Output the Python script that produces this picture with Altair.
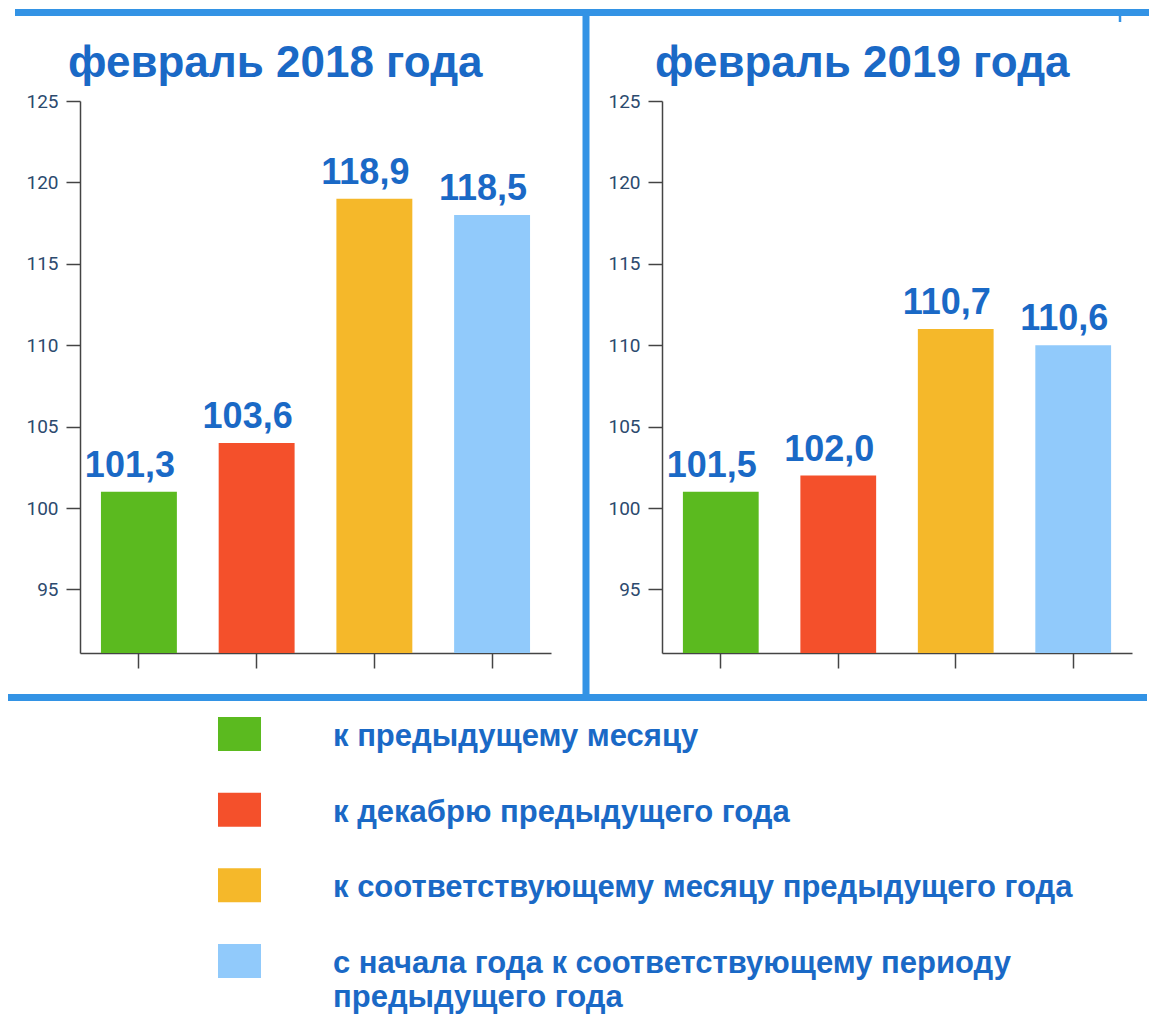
import altair as alt
import pandas as pd

# ---- data ----
categories = [
    "к предыдущему месяцу",
    "к декабрю предыдущего года",
    "к соответствующему месяцу предыдущего года",
    "с начала года к соответствующему периоду\nпредыдущего года",
]
colors = ["#5bba1f", "#f4502b", "#f5b82a", "#91cafb"]
panel_titles = ["февраль 2018 года", "февраль 2019 года"]
bars_2018 = [101, 104, 119, 118]          # drawn bar heights
bars_2019 = [101, 102, 111, 110]
labels_2018 = [101.3, 103.6, 118.9, 118.5]  # printed values
labels_2019 = [101.5, 102.0, 110.7, 110.6]
y_ticks = [95, 100, 105, 110, 115, 120, 125]
y_min, y_max = 91.1, 125

BLUE_TXT = "#1a69c6"
BLUE_LINE = "#3393e5"
AXIS_COL = "#444444"
TICK_LBL = "#2c4a6e"
FONT = "Liberation Sans"

W, H = 1141, 1009


def panel(values, labels, x_range):
    df = pd.DataFrame({"cat": categories, "value": values, "label": labels})
    x = alt.X(
        "cat:N",
        sort=categories,
        scale=alt.Scale(domain=categories, range=x_range,
                        paddingInner=0.355, paddingOuter=0.178),
        axis=alt.Axis(orient="bottom", offset=-(H - 645), labels=False, title=None,
                      tickSize=15, tickWidth=1.5, tickColor=AXIS_COL,
                      domainColor=AXIS_COL, domainWidth=1.5, grid=False),
    )
    y = alt.Y(
        "value:Q",
        scale=alt.Scale(domain=[y_min, y_max], range=[645, 93], nice=False, zero=False),
        axis=alt.Axis(orient="left", offset=-x_range[0], values=y_ticks, title=None,
                      tickSize=14, tickWidth=1.5, tickColor=AXIS_COL,
                      domainColor=AXIS_COL, domainWidth=1.5, grid=False,
                      labelFont="Roboto", labelFontSize=19, labelColor=TICK_LBL,
                      labelPadding=8),
    )
    base = alt.Chart(df).encode(x=x)
    bars = base.mark_bar().encode(
        y=y,
        y2=alt.datum(y_min),
        color=alt.Color("cat:N", scale=alt.Scale(domain=categories, range=colors), legend=None),
    )
    txt = base.transform_calculate(
        txt="replace(format(datum.label, '.1f'), '.', ',')"
    ).mark_text(
        font=FONT, fontSize=36, fontWeight="bold", color=BLUE_TXT,
        baseline="alphabetic", align="center", dx=-9, dy=-15,
    ).encode(y=alt.Y("value:Q"), text="txt:N")
    return alt.layer(bars, txt)


def title(text, x):
    return alt.Chart(pd.DataFrame({"t": [text]})).mark_text(
        font=FONT, fontSize=44, fontWeight="bold", color=BLUE_TXT,
        align="left", baseline="alphabetic",
    ).encode(x=alt.value(x), y=alt.value(69), text="t:N")


one = pd.DataFrame({"a": [0]})


def hline(x1, x2, y, w=7):
    return alt.Chart(one).mark_rule(color=BLUE_LINE, strokeWidth=w).encode(
        x=alt.value(x1), x2=alt.value(x2), y=alt.value(y))


def vline(x, y1, y2, w=7):
    return alt.Chart(one).mark_rule(color=BLUE_LINE, strokeWidth=w).encode(
        x=alt.value(x), y=alt.value(y1), y2=alt.value(y2))


p1 = panel(bars_2018, labels_2018, [72, 543])
p2 = panel(bars_2019, labels_2019, [654, 1124])

leg_df = pd.DataFrame({"cat": categories})
leg_y = alt.Y("cat:N", sort=categories,
              scale=alt.Scale(type="point", domain=categories, range=[726, 953], padding=0),
              axis=None)
leg_sym = alt.Chart(leg_df).mark_point(
    shape="M-1.265,-1L1.265,-1L1.265,1L-1.265,1Z", filled=True, opacity=1,
    size=1156, strokeWidth=0,
).encode(
    x=alt.value(231.5), y=leg_y,
    color=alt.Color("cat:N", scale=alt.Scale(domain=categories, range=colors), legend=None),
)
leg_txt = alt.Chart(leg_df).mark_text(
    font=FONT, fontSize=31, fontWeight="bold", color=BLUE_TXT,
    align="left", baseline="alphabetic", lineHeight=34, dy=12, lineBreak="\n",
).encode(x=alt.value(325), y=leg_y, text="cat:N")

chart = alt.layer(
    hline(7, 1141, 4.5),
    vline(578, 4.5, 689.5),
    hline(0, 1139, 689.5),
    vline(1112, 7, 14, 2.5),
    title(panel_titles[0], 60),
    title(panel_titles[1], 647),
    p1,
    p2,
    leg_sym,
    leg_txt,
).resolve_scale(
    x="independent", y="independent", color="independent"
).properties(
    width=W, height=H, padding=0,
    autosize=alt.AutoSizeParams(type="none"),
).configure_view(stroke=None)

chart.save("out.html", embed_options={"renderer": "svg", "actions": False})
